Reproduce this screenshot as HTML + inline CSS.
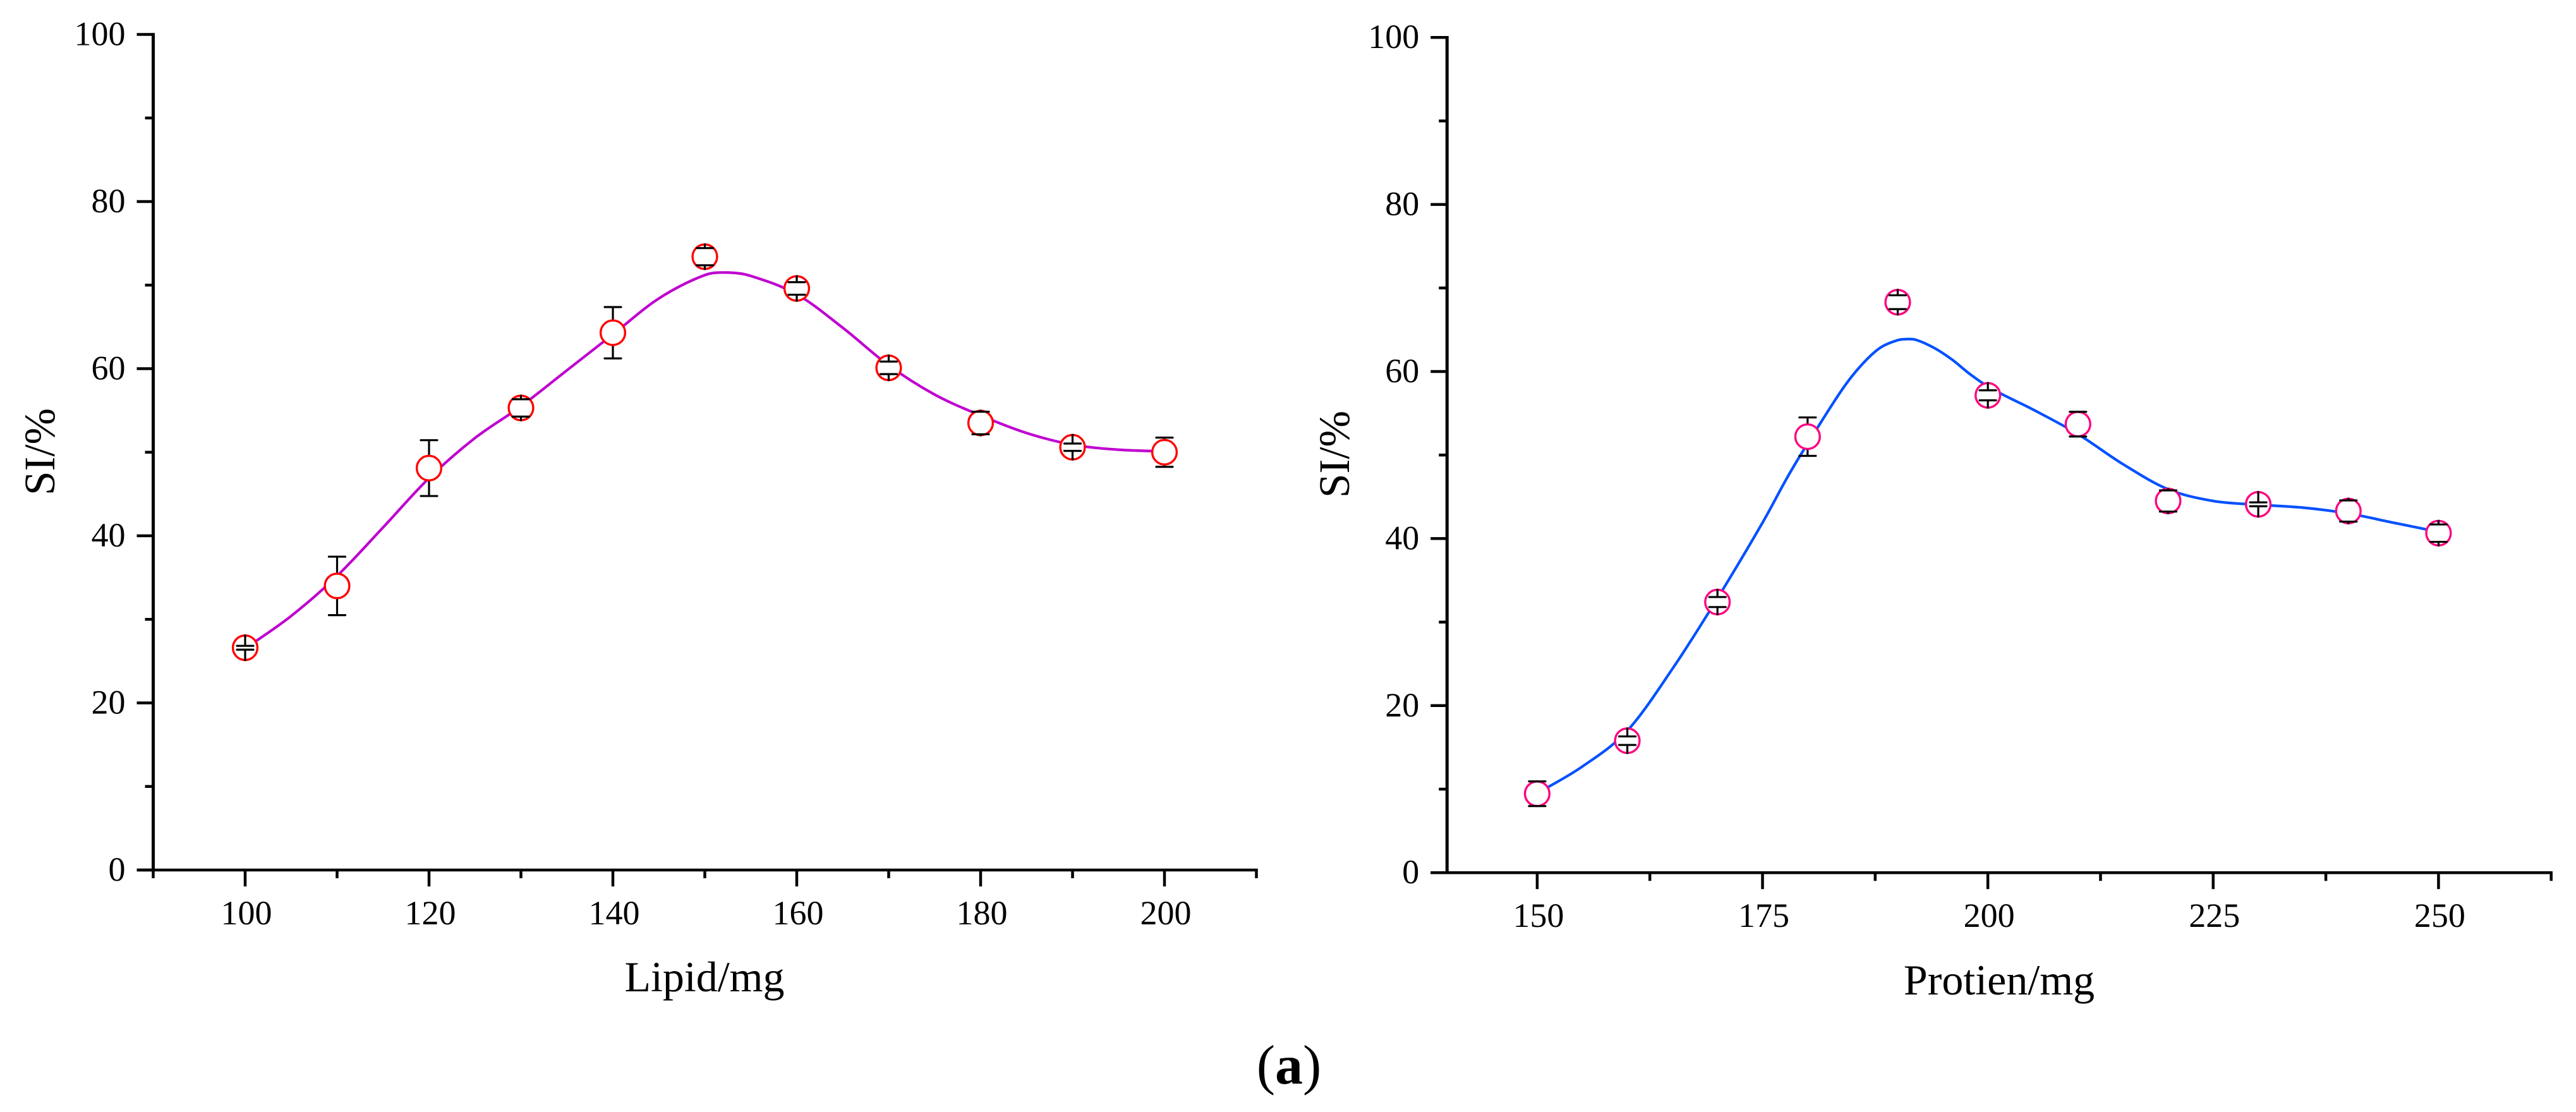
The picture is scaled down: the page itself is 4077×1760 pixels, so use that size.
<!DOCTYPE html>
<html lang="en">
<head>
<meta charset="utf-8">
<title>SI versus Lipid and Protien</title>
<style>
html,body{margin:0;padding:0;background:#fff;width:4077px;height:1760px;overflow:hidden}
svg{display:block;position:absolute;left:0;top:0}
text{font-family:"Liberation Serif","Times New Roman",serif;fill:#000}
</style>
</head>
<body>
<svg id="figure" xmlns="http://www.w3.org/2000/svg" width="4077" height="1760" viewBox="0 0 4077 1760">
  <rect x="0" y="0" width="4077" height="1760" fill="#ffffff"/>
  <text x="2040" y="1715" font-size="88" text-anchor="middle">(<tspan font-weight="bold">a</tspan>)</text>
</svg>
<script>
// Shared y axis
const yTickValues = [0, 20, 40, 60, 80, 100];
const yMinorValues = [10, 30, 50, 70, 90];

// Lipid panel
const lipidXTicks = [100, 120, 140, 160, 180, 200];
const lipidXMinor = [90, 110, 130, 150, 170, 190, 210];
const lipidX = [100, 110, 120, 130, 140, 150, 160, 170, 180, 190, 200];
const lipidSI = [26.6, 34.0, 48.1, 55.3, 64.3, 73.4, 69.6, 60.1, 53.5, 50.6, 50.0];
const lipidErr = [0.23, 3.5, 3.34, 1.04, 3.07, 1.03, 0.75, 0.75, 1.35, 0.44, 1.75];
const lipidFitX = [100, 105, 110, 115, 120, 125, 130, 135, 140, 145, 150, 152.5, 155, 160, 165, 170, 175, 180, 185, 190, 195, 200];
const lipidFitSI = [26.5, 30.4, 35.2, 41.0, 46.9, 51.7, 55.5, 59.8, 64.1, 68.4, 71.2, 71.5, 71.1, 68.9, 64.9, 60.4, 56.9, 54.4, 52.3, 50.9, 50.3, 50.1];

// Protien panel
const protienXTicks = [150, 175, 200, 225, 250];
const protienXMinor = [162.5, 187.5, 212.5, 237.5, 262.5];
const protienX = [150, 160, 170, 180, 190, 200, 210, 220, 230, 240, 250];
const protienSI = [9.45, 15.8, 32.4, 52.2, 68.3, 57.15, 53.7, 44.5, 44.1, 43.3, 40.65];
const protienErr = [1.48, 0.51, 0.6, 2.3, 0.83, 0.6, 1.48, 1.27, 0.23, 1.27, 1.04];
const protienFitX = [150, 155, 160, 165, 170, 175, 178, 181, 184, 186, 188, 190, 191, 192, 194, 196, 198, 200, 202, 205, 210, 215, 220, 225, 230, 235, 240, 245, 250];
const protienFitSI = [9.5, 12.7, 17.0, 24.4, 32.85, 41.9, 47.8, 53.1, 58.1, 60.8, 62.8, 63.75, 63.88, 63.8, 62.85, 61.45, 59.7, 58.2, 57.05, 55.45, 52.5, 48.9, 45.9, 44.5, 44.05, 43.7, 43.0, 41.9, 40.8];

const SVGNS = 'http://www.w3.org/2000/svg';
const root = document.getElementById('figure');

function make(parent, tag, attrs, text) {
  const node = document.createElementNS(SVGNS, tag);
  for (const k in attrs) node.setAttribute(k, attrs[k]);
  if (text !== undefined) node.textContent = text;
  parent.appendChild(node);
  return node;
}

// Smooth cubic through the fit samples; tangents from neighbouring samples so uneven spacing stays smooth.
function smoothPath(px, py) {
  const n = px.length;
  const slope = px.map((_, i) => {
    const a = Math.max(i - 1, 0), b = Math.min(i + 1, n - 1);
    return (py[b] - py[a]) / (px[b] - px[a]);
  });
  let d = 'M' + px[0].toFixed(2) + ' ' + py[0].toFixed(2);
  for (let i = 0; i < n - 1; i++) {
    const h = (px[i + 1] - px[i]) / 3;
    d += ' C' + (px[i] + h).toFixed(2) + ' ' + (py[i] + slope[i] * h).toFixed(2) +
         ' ' + (px[i + 1] - h).toFixed(2) + ' ' + (py[i + 1] - slope[i + 1] * h).toFixed(2) +
         ' ' + px[i + 1].toFixed(2) + ' ' + py[i + 1].toFixed(2);
  }
  return d;
}

function drawPanel(cfg) {
  const sx = v => cfg.x0 + (v - cfg.xRef) * cfg.xScale;
  const sy = v => cfg.y0 - v * cfg.yScale;
  const axisX = sx(cfg.xMin);
  const axisEnd = sx(cfg.xMax);

  const panel = make(root, 'g', {});
  
  

  const yAxis = make(panel, 'line', {x1: axisX, x2: axisX, y1: sy(100) - 2.2, y2: sy(0) + 2.2, stroke: '#000', 'stroke-width': 5});
  
  

  const xAxis = make(panel, 'line', {x1: axisX - 26, x2: axisEnd + 2.2, y1: sy(0), y2: sy(0), stroke: '#000', 'stroke-width': 4.5});
  
  

  yTickValues.forEach(v => {
    const t = make(panel, 'line', {x1: axisX - 26, x2: axisX, y1: sy(v), y2: sy(v), stroke: '#000', 'stroke-width': 4.5});
    
    
    const l = make(panel, 'text', {x: axisX - 44, y: sy(v) + 17, 'font-size': 54, 'text-anchor': 'end'}, String(v));
    
    
  });
  yMinorValues.forEach(v => {
    const t = make(panel, 'line', {x1: axisX - 13, x2: axisX, y1: sy(v), y2: sy(v), stroke: '#000', 'stroke-width': 4.5});
    
    
  });
  cfg.xTicks.forEach(v => {
    const t = make(panel, 'line', {x1: sx(v), x2: sx(v), y1: sy(0), y2: sy(0) + 26, stroke: '#000', 'stroke-width': 4.5});
    
    
    const l = make(panel, 'text', {x: sx(v) + 2, y: sy(0) + 86, 'font-size': 54, 'text-anchor': 'middle'}, String(v));
    
    
  });
  cfg.xMinor.forEach(v => {
    const t = make(panel, 'line', {x1: sx(v), x2: sx(v), y1: sy(0), y2: sy(0) + 13, stroke: '#000', 'stroke-width': 4.5});
    
    
  });

  const xTitle = make(panel, 'text', {x: cfg.xTitleX, y: cfg.xTitleY, 'font-size': 68, 'text-anchor': 'middle'}, cfg.xTitle);
  
  

  const yTitle = make(panel, 'text', {x: 0, y: 0, 'font-size': 69, 'text-anchor': 'middle', transform: 'translate(' + cfg.yTitleX + ' ' + cfg.yTitleY + ') rotate(-90)'}, 'SI/%');
  
  

  const fit = make(panel, 'path', {d: smoothPath(cfg.fitX.map(sx), cfg.fitY.map(sy)), fill: 'none', stroke: cfg.lineColor, 'stroke-width': 4.2, 'stroke-linejoin': 'round'});
  
  

  const R = 19.4;
  const capHalf = 13;
  cfg.xs.forEach((xv, i) => {
    const cx = sx(xv), cy = sy(cfg.ys[i]), e = cfg.errs[i] * cfg.yScale;
    const edge = R + 1.6;

    const marker = make(panel, 'circle', {cx: cx, cy: cy, r: R, fill: '#fff', stroke: cfg.markerColor, 'stroke-width': 3.4});
    
    

    const upper = make(panel, 'line', {x1: cx, x2: cx, y1: cy - edge, y2: cy - e, stroke: '#000', 'stroke-width': 3.2});
    
    

    const lower = make(panel, 'line', {x1: cx, x2: cx, y1: cy + edge, y2: cy + e, stroke: '#000', 'stroke-width': 3.2});
    
    

    const capTop = make(panel, 'line', {x1: cx - capHalf, x2: cx + capHalf, y1: cy - e, y2: cy - e, stroke: '#000', 'stroke-width': 3.2, 'stroke-linecap': 'round'});
    
    

    const capBottom = make(panel, 'line', {x1: cx - capHalf, x2: cx + capHalf, y1: cy + e, y2: cy + e, stroke: '#000', 'stroke-width': 3.2, 'stroke-linecap': 'round'});
    
    
  });
}

drawPanel({
  name: 'lipid', x0: 388, xRef: 100, xScale: 14.55, xMin: 90, xMax: 210,
  y0: 1377, yScale: 13.225,
  xTicks: lipidXTicks, xMinor: lipidXMinor,
  xs: lipidX, ys: lipidSI, errs: lipidErr, fitX: lipidFitX, fitY: lipidFitSI,
  lineColor: '#bf00d0', markerColor: '#ff0000',
  xTitle: 'Lipid/mg', xTitleX: 1115, xTitleY: 1569, yTitleX: 86, yTitleY: 715
});

drawPanel({
  name: 'protien', x0: 2432.9, xRef: 150, xScale: 14.265, xMin: 140, xMax: 262.5,
  y0: 1381.2, yScale: 13.22,
  xTicks: protienXTicks, xMinor: protienXMinor,
  xs: protienX, ys: protienSI, errs: protienErr, fitX: protienFitX, fitY: protienFitSI,
  lineColor: '#0050ff', markerColor: '#ff0080',
  xTitle: 'Protien/mg', xTitleX: 3164, xTitleY: 1574, yTitleX: 2135, yTitleY: 719
});
</script>
</body>
</html>
